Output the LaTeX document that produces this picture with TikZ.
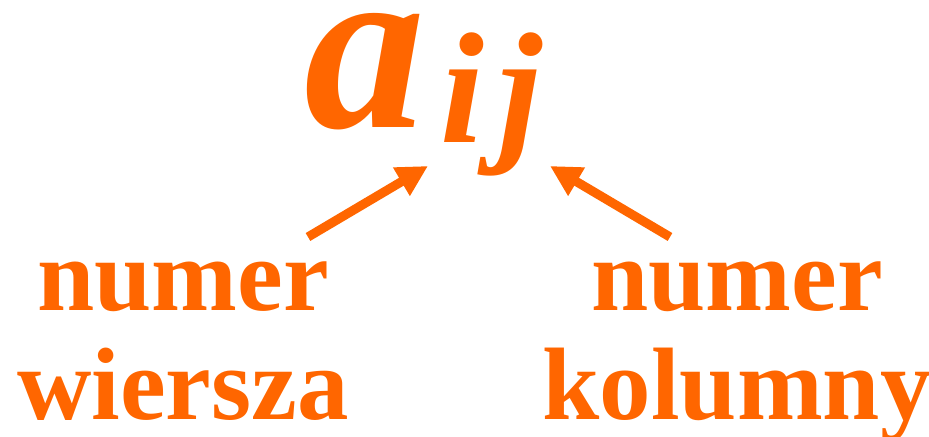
\documentclass[tikz,border=0pt]{standalone}
\usepackage{fontspec}
\setmainfont{Liberation Serif}
\usetikzlibrary{arrows.meta}
\definecolor{idxorange}{HTML}{FF6600}
\tikzset{
  idxlabel/.style={font=\fontsize{29.3}{31.2}\selectfont\bfseries, text=idxorange, align=center, inner sep=0pt},
  idxarrow/.style={-{Triangle[length=8.8pt,width=8.8pt]}, line width=2.6pt, idxorange}
}
\begin{document}
\begin{tikzpicture}
\useasboundingbox (0,0) rectangle (9.29,4.37);
\node (a) [anchor=base west, inner sep=0pt, text=idxorange, font=\fontsize{69}{69}\selectfont\bfseries\itshape] at (3.04,3.09) {a};
\node (ij) [anchor=base west, inner sep=0pt, text=idxorange, font=\fontsize{45}{45}\selectfont\bfseries\itshape] at (4.40,2.94) {i\kern4pt j};
\node (row) [idxlabel, anchor=base] at (1.83,0.17) {numer\\wiersza};
\node (col) [idxlabel, anchor=base] at (7.37,0.17) {numer\\kolumny};

\coordinate (rowtail) at (3.08,2.00);
\coordinate (rowtip) at (4.28,2.71);
\coordinate (coltail) at (6.70,2.00);
\coordinate (coltip) at (5.50,2.71);

\draw [idxarrow] (rowtail) -- (rowtip);
\draw [idxarrow] (coltail) -- (coltip);
\end{tikzpicture}
\end{document}
